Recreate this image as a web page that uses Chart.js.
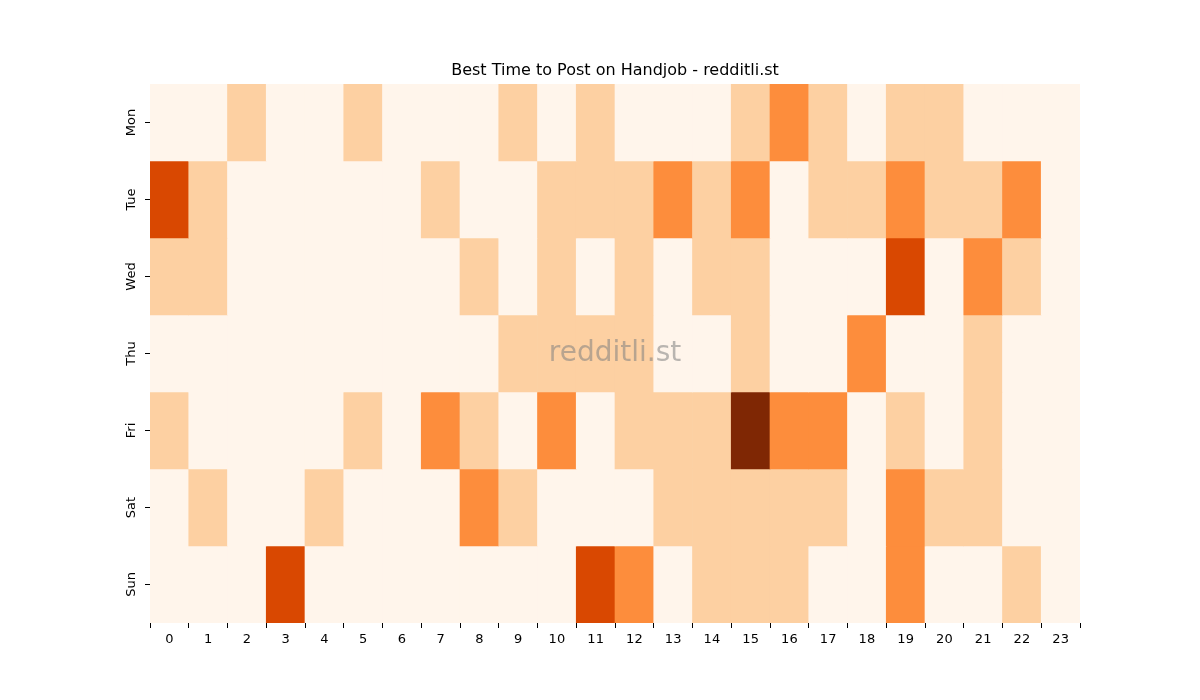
<!DOCTYPE html>
<html><head><meta charset="utf-8">
<script src="https://cdn.jsdelivr.net/npm/chart.js@4"></script>
<style>body{margin:0;background:#fff}#w{width:1200px;height:700px}</style>
</head><body><div id="w"><canvas id="c"></canvas></div>
<script>
const days = ["Mon","Tue","Wed","Thu","Fri","Sat","Sun"];
const hours = ["0","1","2","3","4","5","6","7","8","9","10","11","12","13","14","15","16","17","18","19","20","21","22","23"];
const mon = [0,0,1,0,0,1,0,0,0,1,0,1,0,0,0,1,2,1,0,1,1,0,0,0];
const tue = [3,1,0,0,0,0,0,1,0,0,1,1,1,2,1,2,0,1,1,2,1,1,2,0];
const wed = [1,1,0,0,0,0,0,0,1,0,1,0,1,0,1,1,0,0,0,3,0,2,1,0];
const thu = [0,0,0,0,0,0,0,0,0,1,1,1,1,0,0,1,0,0,2,0,0,1,0,0];
const fri = [1,0,0,0,0,1,0,2,1,0,2,0,1,1,1,4,2,2,0,1,0,1,0,0];
const sat = [0,1,0,0,1,0,0,0,2,1,0,0,0,1,1,1,1,1,0,2,1,1,0,0];
const sun = [0,0,0,3,0,0,0,0,0,0,0,3,2,0,1,1,1,0,0,2,0,0,1,0];
const rows = [mon,tue,wed,thu,fri,sat,sun];
const palette = ["#fff5eb","#fdd0a2","#fd8d3c","#d94801","#7f2704"];

const datasets = rows.map((r,i)=>({
  label: days[i],
  data: r.map(()=>[i,i+1]),
  backgroundColor: r.map(v=>palette[v]),
  borderWidth: 0,
  grouped: false,
  barPercentage: 1,
  categoryPercentage: 1
}));

const deco = {
  id:'deco',
  afterDraw(ch){
    const c = ch.ctx, a = ch.chartArea, y = ch.scales.y;
    c.save();
    c.fillStyle='#000';
    c.font='16px "DejaVu Sans"';
    c.textAlign='center'; c.textBaseline='bottom';
    c.fillText('Best Time to Post on Handjob - redditli.st',(a.left+a.right)/2,a.top-5);
    c.font='13px "DejaVu Sans"';
    c.textBaseline='middle';
    days.forEach((d,i)=>{
      const py = y.getPixelForValue(i+0.5);
      c.strokeStyle='#000'; c.lineWidth=1;
      c.beginPath(); c.moveTo(a.left-5,py); c.lineTo(a.left,py); c.stroke();
      c.save(); c.translate(a.left-18,py); c.rotate(-Math.PI/2);
      c.fillText(d,0,0); c.restore();
    });
    c.font='28px "DejaVu Sans"';
    c.fillStyle='rgba(128,128,128,0.55)';
    c.fillText('redditli.st',(a.left+a.right)/2,(a.top+a.bottom)/2);
    c.restore();
  }
};

new Chart(document.getElementById('c'),{
  type:'bar',
  data:{labels:hours,datasets},
  options:{
    responsive:true,maintainAspectRatio:false,animation:false,
    layout:{padding:{left:150,right:120,top:84,bottom:0}},
    plugins:{legend:{display:false},tooltip:{enabled:false}},
    scales:{
      x:{grid:{drawOnChartArea:false,drawTicks:true,tickLength:5,color:'#000'},border:{display:false},
         ticks:{color:'#000',font:{family:'DejaVu Sans',size:13},maxRotation:0,padding:4},
         afterFit(s){s.height=77;}},
      y:{display:false,min:0,max:7,reverse:true}
    }
  },
  plugins:[deco]
});
</script></body></html>
